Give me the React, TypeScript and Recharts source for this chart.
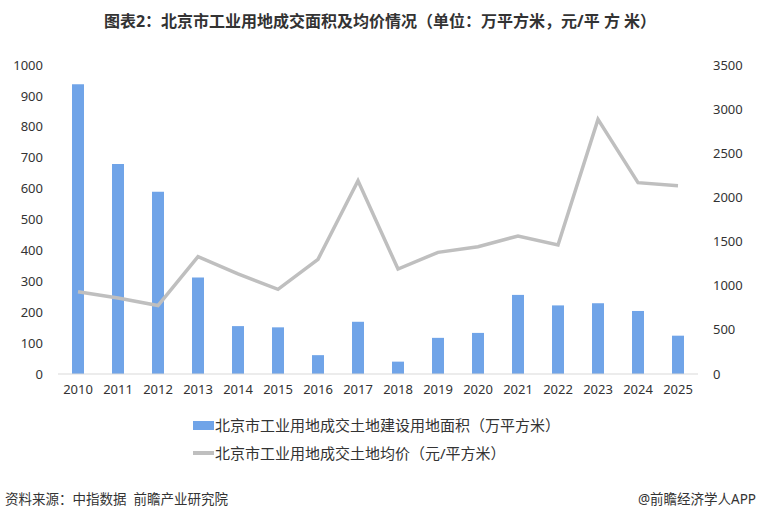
import React from 'react';
import { ComposedChart, Bar, Line, XAxis, YAxis } from 'recharts';

const years = ['2010', '2011', '2012', '2013', '2014', '2015', '2016', '2017', '2018', '2019', '2020', '2021', '2022', '2023', '2024', '2025'];
const areaValues = [938, 680, 590, 312, 155, 151, 61, 169, 40, 117, 133, 256, 222, 229, 204, 124];
const priceValues = [932, 860, 775, 1329, 1135, 959, 1299, 2189, 1189, 1378, 1442, 1563, 1461, 2884, 2167, 2133];
const leftTicks = [0, 100, 200, 300, 400, 500, 600, 700, 800, 900, 1000];
const rightTicks = [0, 500, 1000, 1500, 2000, 2500, 3000, 3500];

const areaName = '北京市工业用地成交土地建设用地面积（万平方米）';
const priceName = '北京市工业用地成交土地均价（元/平方米）';

const data = years.map((year, i) => ({
    year,
    area: areaValues[i],
    price: priceValues[i],
}));

const font = '"Noto Sans", "Noto Sans CJK SC", sans-serif';
const tickStyle = { fontSize: 13, fill: '#333333', fontFamily: font };

const App: React.FC = () => {
    return (
        <div style={{ position: 'absolute', left: 0, top: 0, width: 760, height: 518, background: '#fff', fontFamily: font }}>
            <div style={{ position: 'absolute', top: 8, left: 0, width: 760, textAlign: 'center', fontSize: 16, fontWeight: 'bold', color: '#333' }}>
                图表2：北京市工业用地成交面积及均价情况（单位：万平方米，元/平 方 米）
            </div>
            <ComposedChart
                width={760}
                height={480}
                data={data}
                margin={{ top: 65, right: 0, left: 0, bottom: 76 }}
            >
                <XAxis
                    dataKey="year"
                    height={30}
                    tickSize={0}
                    tickMargin={11}
                    tick={tickStyle}
                    axisLine={{ stroke: '#d9d9d9' }}
                    interval={0}
                />
                <YAxis
                    yAxisId="left"
                    width={58}
                    domain={[0, 1000]}
                    ticks={leftTicks}
                    tickSize={0}
                    tickMargin={15}
                    tick={tickStyle}
                    axisLine={false}
                    interval={0}
                />
                <YAxis
                    yAxisId="right"
                    orientation="right"
                    width={62}
                    domain={[0, 3500]}
                    ticks={rightTicks}
                    tickSize={0}
                    tickMargin={15}
                    tick={{ ...tickStyle, textAnchor: 'start' }}
                    axisLine={false}
                    interval={0}
                />
                <Bar yAxisId="left" dataKey="area" name={areaName} fill="#70a4e8" barSize={12} isAnimationActive={false} />
                <Line yAxisId="right" dataKey="price" name={priceName} stroke="#bfbfbf" strokeWidth={3.5} dot={false} type="linear" isAnimationActive={false} />
            </ComposedChart>
            <div style={{ position: 'absolute', left: 193, top: 414, fontSize: 15, color: '#333', lineHeight: '22px' }}>
                <div style={{ display: 'flex', alignItems: 'center' }}>
                    <span style={{ display: 'inline-block', width: 21, height: 9, background: '#70a4e8', marginRight: 1 }} />
                    {areaName}
                </div>
                <div style={{ display: 'flex', alignItems: 'center', marginTop: 6 }}>
                    <span style={{ display: 'inline-block', width: 21, height: 3.5, background: '#bfbfbf', marginRight: 1 }} />
                    {priceName}
                </div>
            </div>
            <div style={{ position: 'absolute', left: 5, top: 488, fontSize: 13.5, color: '#333' }}>
                资料来源：中指数据&nbsp;&nbsp;前瞻产业研究院
            </div>
            <div style={{ position: 'absolute', right: 4, top: 488, fontSize: 13.5, color: '#333' }}>
                @前瞻经济学人APP
            </div>
        </div>
    );
};

export default App;
